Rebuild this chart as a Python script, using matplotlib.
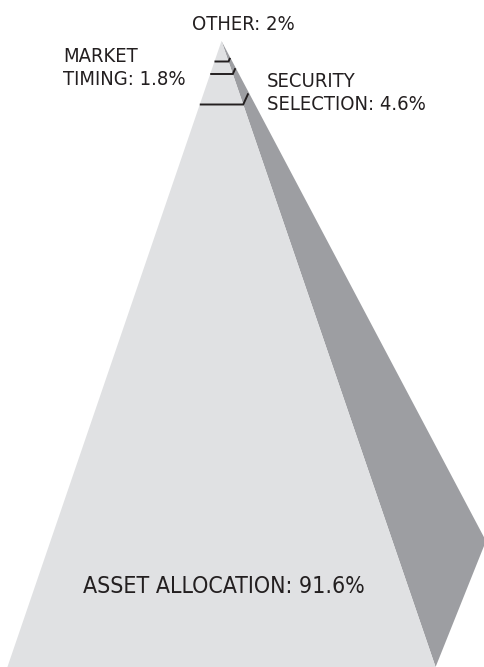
import matplotlib
matplotlib.use("Agg")
import matplotlib.pyplot as plt
from matplotlib import font_manager
from matplotlib.patches import Polygon

# narrow face if there is one
fp = font_manager.FontProperties(family="DejaVu Sans", stretch="condensed")
font_file = font_manager.findfont(fp)

# data: components of return variance
labels = ["OTHER", "MARKET\nTIMING", "SECURITY\nSELECTION", "ASSET ALLOCATION"]
values = [2, 1.8, 4.6, 91.6]

W, H = 485, 667
fig = plt.figure(figsize=(W / 100, H / 100), dpi=100)
ax = fig.add_axes([0, 0, 1, 1])
ax.set_xlim(0, W)
ax.set_ylim(H, 0)
ax.axis("off")

apex = (221.5, 41)
base_y = 667
k = 0.342  # half-slope of the front face
left = (apex[0] - k * (base_y - apex[1]), base_y)
right = (apex[0] + k * (base_y - apex[1]), base_y)
side_tip = (486, 541)

ax.add_patch(Polygon([apex, side_tip, right], closed=True, color="#9d9ea2", lw=0))
ax.add_patch(Polygon([apex, left, right], closed=True, color="#e0e1e3", lw=0))

# layer lines near the top
for y in [61.5, 74, 104.5]:
    d = y - apex[1]
    x0 = apex[0] - k * d
    x1 = apex[0] + k * d
    ax.plot([x0, x1, x1 + 0.08 * d], [y, y, y - 0.175 * d], color="#231f20",
            lw=1.4, solid_joinstyle="miter", solid_capstyle="butt")

txt = [f"{l}: {v:g}%" for l, v in zip(labels, values)]
kw = dict(fontproperties=font_manager.FontProperties(fname=font_file), color="#231f20")
ax.text(243, 29.5, txt[0], ha="center", va="baseline", fontsize=14.5, **kw)
ax.text(63, 85, txt[1], ha="left", va="baseline", fontsize=14.5, linespacing=1.26, **kw)
ax.text(267, 110, txt[2], ha="left", va="baseline", fontsize=14.5, linespacing=1.26, **kw)
ax.text(223.5, 593, txt[3], ha="center", va="baseline", fontsize=16.6, **kw)

fig.savefig("out.png", dpi=100)
